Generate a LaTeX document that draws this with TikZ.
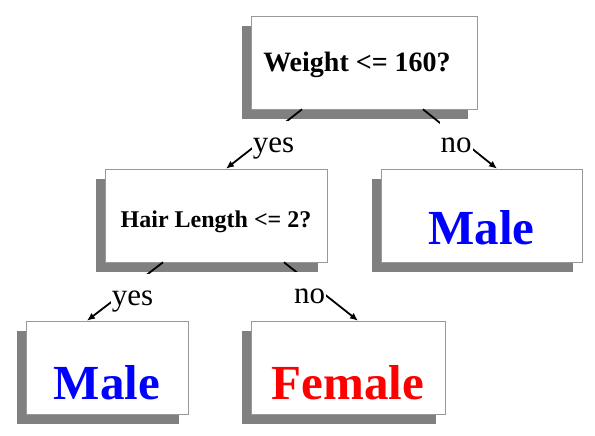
\documentclass[tikz,border=0pt]{standalone}
\usepackage{fontspec}
\setmainfont{Liberation Serif}
\usetikzlibrary{shadows, arrows.meta}

\begin{document}
\begin{tikzpicture}[x=1pt, y=-1pt,
		box/.style={draw=black!40, line width=0.6pt, fill=white, minimum height=93pt, inner sep=0pt,
			drop shadow={shadow xshift=-9pt, shadow yshift=-10pt, fill=black!50, opacity=1}},
		question/.style={box, text depth=0pt},
		leaf/.style={box, font=\bfseries\fontsize{49}{55}\selectfont, text depth=0pt},
		answer/.style={fill=white, inner sep=1pt, font=\fontsize{31}{35}\selectfont, text height=30pt, text depth=7pt, anchor=base},
		link/.style={black, line width=1.8pt, >={Latex[length=8pt, width=7pt]}, ->}]
		\useasboundingbox (0,0) rectangle (595,436);
%		
		\node[question, minimum width=226pt, text height=19pt, font=\bfseries\fontsize{28}{32}\selectfont] (weight) at (364,62.5) {Weight <= 160?\hspace*{14pt}};
		\node[question, minimum width=222pt, text height=24pt, font=\bfseries\fontsize{24}{28}\selectfont] (hair) at (216,215.5) {Hair Length <= 2?};
		\node[leaf, minimum width=201pt, text height=57pt, text=blue] (maleR) at (481.5,215.5) {Male};
		\node[leaf, minimum width=162pt, text height=64pt, text=blue] (maleL) at (107,367.5) {Male};
		\node[leaf, minimum width=194pt, text height=64pt, text=red] (female) at (348,367.5) {Female};
%		
		\draw[link] ([xshift=-62pt]weight.south) -- ([xshift=10pt]hair.north);
		\draw[link] ([xshift=59pt]weight.south) -- ([xshift=15.5pt]maleR.north);
		\draw[link] ([xshift=-53pt]hair.south) -- ([xshift=-20pt]maleL.north);
		\draw[link] ([xshift=68pt]hair.south) -- ([xshift=10pt]female.north);
%		
		\node[answer] (yesA) at (273.5,152) {yes};
		\node[answer] (noA) at (456,152) {no};
		\node[answer] (yesB) at (132.5,305) {yes};
		\node[answer] (noB) at (309.5,303) {no};
\end{tikzpicture}
\end{document}
